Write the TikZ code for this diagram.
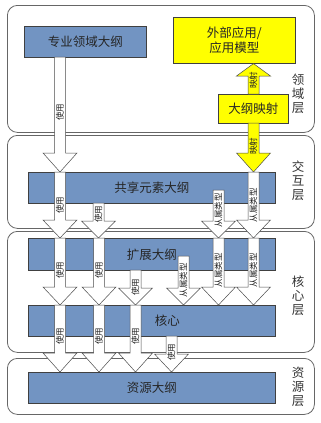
\documentclass[tikz,border=0pt]{standalone}
\usepackage{fontspec}
\setmainfont{Noto Sans CJK SC}
\definecolor{boxblue}{RGB}{114,148,194}
\definecolor{boxyellow}{RGB}{255,255,0}
\newcommand\blockarr[8]{% #1 name, #2 x, #3 y start, #4 y head, #5 tip anchor, #6 fill, #7 label, #8 label y
  \draw[arr, fill=#6] (#2-5.5,#3) -- (#2-5.5,#4) -- (#2-17,#4) -- (#2,0 |- #5) -- (#2+17,#4) -- (#2+5.5,#4) -- (#2+5.5,#3) -- cycle;
  \node[lbl] (#1) at (#2,#8) {#7};
}
\begin{document}
\begin{tikzpicture}[x=1pt,y=-1pt,
  layer/.style={draw=black!60, line width=0.8pt, rounded corners=10pt, fill=white, anchor=north west, inner sep=0pt},
  bluebox/.style={draw=black!75, fill=boxblue, line width=0.6pt, anchor=north west, inner sep=0pt, text=black!85, font=\fontsize{12.5}{15}\selectfont},
  ylwbox/.style={draw=black!75, fill=boxyellow, line width=0.6pt, anchor=north west, inner sep=0pt, text=black!85, font=\fontsize{12.5}{15}\selectfont, align=center},
  arr/.style={draw=black!70, line width=0.5pt},
  lbl/.style={rotate=90, font=\fontsize{8.5}{8.5}\selectfont, inner sep=0pt, text=black!85},
  laylbl/.style={align=center, font=\fontsize{12.5}{14}\selectfont, text=black!80, inner sep=0pt}
]
\useasboundingbox (0,0) rectangle (321,423);
\fill[white] (0,0) rectangle (321,423);

% layers
\node[layer, minimum width=307pt, minimum height=127pt] (L1) at (7,5) {};
\node[layer, minimum width=307pt, minimum height=93pt] (L2) at (7,135) {};
\node[layer, minimum width=307pt, minimum height=121pt] (L3) at (7,231) {};
\node[layer, minimum width=307pt, minimum height=56pt] (L4) at (7,358) {};

\node[laylbl] (t1) at (298,94) {领\\域\\层};
\node[laylbl] (t2) at (298,181) {交\\互\\层};
\node[laylbl] (t3) at (298,296) {核\\心\\层};
\node[laylbl] (t4) at (298,387) {资\\源\\层};

% boxes
\node[bluebox, minimum width=122pt, minimum height=31pt] (domain) at (24,26) {专业领域大纲};
\node[ylwbox, minimum width=122pt, minimum height=46pt] (extapp) at (173,17) {外部应用/\\应用模型};
\node[ylwbox, minimum width=70pt, minimum height=29pt] (map) at (218,94) {大纲映射};
\node[bluebox, minimum width=247pt, minimum height=31pt] (shared) at (28,172) {共享元素大纲};
\node[bluebox, minimum width=247pt, minimum height=32pt] (ext) at (28,238) {扩展大纲};
\node[bluebox, minimum width=247pt, minimum height=31pt] (core) at (28,305) {\hspace*{31pt}核心};
\node[bluebox, minimum width=247pt, minimum height=31pt] (res) at (28,372) {资源大纲};

% arrows: domain layer
\blockarr{a1}{60}{57}{153}{shared.north}{white}{使用}{112}
\blockarr{a2}{253.5}{94}{76}{extapp.south}{boxyellow}{映射}{80}
\blockarr{a3}{253.5}{123}{153}{shared.north}{boxyellow}{映射}{146}

% shared -> ext
\blockarr{b1}{60}{172}{220}{ext.north}{white}{使用}{205}
\blockarr{b2}{98.5}{203}{221}{ext.north}{white}{使用}{214}
\blockarr{b3}{218.5}{190}{221}{ext.north}{white}{从属类型}{210}
\blockarr{b4}{253.5}{172}{220}{ext.north}{white}{从属类型}{205}

% ext -> core
\blockarr{c1}{60}{238}{287}{core.north}{white}{使用}{270}
\blockarr{c2}{99}{238}{287}{core.north}{white}{使用}{270}
\blockarr{c3}{135.5}{270}{288}{core.north}{white}{使用}{287}
\blockarr{c4}{183.5}{256}{288}{core.north}{white}{从属类型}{280}
\blockarr{c5}{218.5}{238}{287}{core.north}{white}{从属类型}{270}
\blockarr{c6}{253.5}{238}{287}{core.north}{white}{从属类型}{270}

% core -> res
\blockarr{d1}{60}{305}{353}{res.north}{white}{使用}{336}
\blockarr{d2}{99}{305}{353}{res.north}{white}{使用}{336}
\blockarr{d3}{135.5}{305}{353}{res.north}{white}{使用}{336}
\blockarr{d4}{171.5}{336}{354}{res.north}{white}{使用}{352}
\end{tikzpicture}
\end{document}
